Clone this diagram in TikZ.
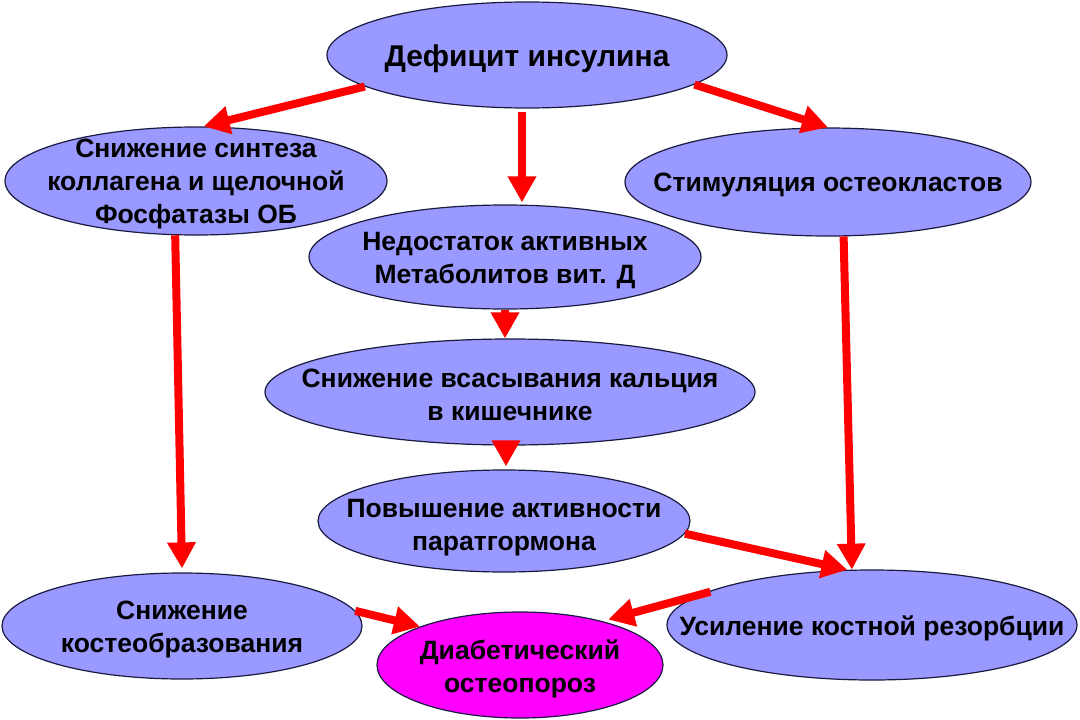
\documentclass[tikz,border=0pt]{standalone}
\usepackage{fontspec}
\setmainfont{Liberation Sans}
\usetikzlibrary{arrows.meta,shapes.geometric}
\definecolor{lav}{HTML}{9999FF}
\definecolor{mag}{HTML}{FF00FF}
\definecolor{edgec}{HTML}{1A1A40}
\begin{document}
\begin{tikzpicture}[x=1pt,y=-1pt,
  ell/.style={ellipse, draw=edgec, line width=1.2pt, fill=lav, inner sep=0pt},
  txt/.style={font=\fontsize{26.5}{33}\selectfont\bfseries, align=center, text=black, yshift=-3pt},
  bigtxt/.style={font=\fontsize{30}{36}\selectfont\bfseries, align=center, text=black, yshift=-4pt},
  arr/.style={draw=red, line width=8pt, -{Triangle[length=26pt,width=27pt]}}]
\useasboundingbox (0,0) rectangle (1080,720);
\fill[white] (0,0) rectangle (1080,720);
\node[ell, minimum width=400pt, minimum height=106pt, label={[bigtxt]center:Дефицит инсулина}] (n1) at (527,55) {};
\node[ell, minimum width=382pt, minimum height=108pt, label={[txt]center:Снижение синтеза\\коллагена и щелочной\\Фосфатазы ОБ}] (n2) at (196,181) {};
\node[ell, minimum width=406pt, minimum height=108pt, label={[txt]center:Стимуляция остеокластов}] (n3) at (828,182) {};
\node[ell, minimum width=392pt, minimum height=104pt, label={[txt, yshift=-1pt]center:Недостаток активных\\Метаболитов вит. Д}] (n4) at (505,257) {};
\node[ell, minimum width=490pt, minimum height=106pt, label={[txt]center:Снижение всасывания кальция\\в кишечнике}] (n5) at (510,392) {};
\node[ell, minimum width=372pt, minimum height=102pt, label={[txt, yshift=-4pt]center:Повышение активности\\паратгормона}] (n6) at (504,521) {};
\node[ell, minimum width=360pt, minimum height=106pt, label={[txt]center:Снижение\\костеобразования}] (n7) at (182,626) {};
\node[ell, fill=mag, minimum width=286pt, minimum height=106pt, label={[txt, yshift=-1pt]center:Диабетический\\остеопороз}] (n8) at (520,665) {};
\node[ell, minimum width=410pt, minimum height=110pt, label={[txt]center:Усиление костной резорбции}] (n9) at (872,625) {};
\coordinate (c2) at (n1.south |- n4.north);
\coordinate (c5) at (n6.north |- n5.south);
\draw[arr] (n1.191) -- (n2.82);
\draw[arr] ([xshift=-5pt,yshift=-3pt]n1.south) -- ([xshift=-5pt,yshift=2pt]c2);
\draw[arr] (n1.350) -- (n3.north);
\draw[arr] (n4.south) -- (n4.south |- n5.north);
\draw[arr, shorten >=3pt] ([xshift=2pt]c5) -- ([xshift=2pt]n6.north);
\draw[arr] (n2.249) -- ([yshift=4pt]n7.north);
\draw[arr] (n3.286) -- (n9.110);
\draw[arr] (n6.356) -- (n9.114);
\draw[arr] (n7.5) -- (n8.159);
\draw[arr, shorten <=-11pt, shorten >=6pt] (n9.170) -- (n8.28);
\end{tikzpicture}
\end{document}
